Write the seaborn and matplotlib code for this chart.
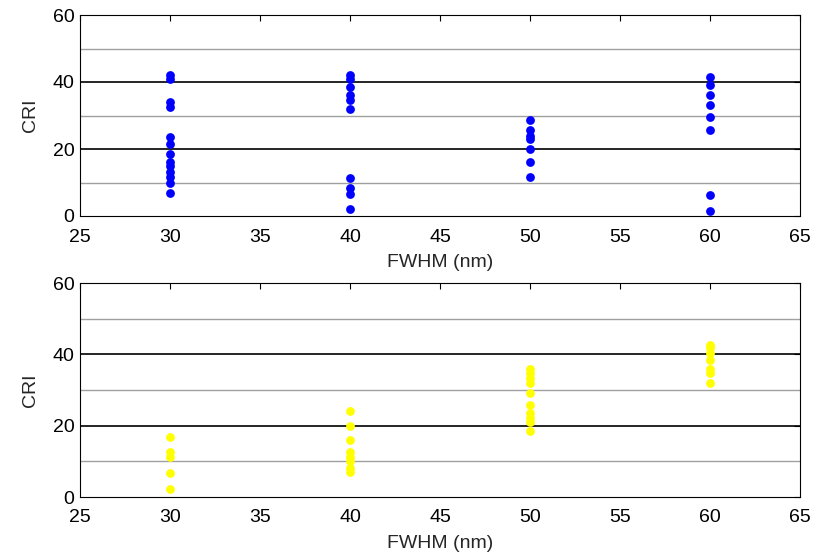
import matplotlib
matplotlib.use("Agg")
import matplotlib.pyplot as plt
import seaborn as sns
import pandas as pd
import numpy as np

sns.set_theme(style="white")
plt.rcParams['font.family'] = ['Liberation Sans', 'DejaVu Sans']

# Top panel (blue)
top_x30 = [42, 41, 34, 32.5, 23.5, 21.5, 18.5, 16, 15, 13, 11.5, 10, 7]
top_x40 = [42, 41, 38.5, 36, 34.5, 32, 11.3, 8.4, 6.5, 2.2]
top_x50 = [28.7, 25.7, 24, 23, 20, 16, 11.6]
top_x60 = [41.4, 39, 36, 33.1, 29.6, 25.7, 6.3, 1.5]

# Bottom panel (yellow)
bot_x30 = [16.7, 12.7, 11.3, 6.8, 2.2]
bot_x40 = [24, 20, 16, 12.7, 11.3, 10, 8, 7]
bot_x50 = [36, 34.7, 33.3, 31.9, 29.2, 25.8, 23.5, 22.1, 21.1, 18.5]
bot_x60 = [42.6, 41.7, 40.3, 38.4, 36, 34.7, 31.9]

fwhm_levels = [30, 40, 50, 60]
xticks = [25, 30, 35, 40, 45, 50, 55, 60, 65]
yticks = [0, 20, 40, 60]


def make_df(groups):
    xs, ys = [], []
    for lvl, vals in zip(fwhm_levels, groups):
        xs += [lvl] * len(vals)
        ys += vals
    return pd.DataFrame({"FWHM": xs, "CRI": ys})


df_top = make_df([top_x30, top_x40, top_x50, top_x60])
df_bot = make_df([bot_x30, bot_x40, bot_x50, bot_x60])

fig = plt.figure(figsize=(8.15, 5.59), dpi=100)
ax1 = fig.add_axes([80 / 815, 1 - 216 / 559, 720 / 815, 201 / 559])
ax2 = fig.add_axes([80 / 815, 1 - 497 / 559, 720 / 815, 214 / 559])

for ax, df, color in [(ax1, df_top, "#0000ff"), (ax2, df_bot, "#ffff00")]:
    for y in [10, 30, 50]:
        ax.axhline(y, color="#a0a0a0", lw=1.0, zorder=0)
    for y in [20, 40]:
        ax.axhline(y, color="black", lw=1.2, zorder=0)
    sns.scatterplot(data=df, x="FWHM", y="CRI", ax=ax, color=color,
                    s=40, edgecolor=color, linewidth=0, legend=False, zorder=3)
    ax.set_xlim(25, 65)
    ax.set_ylim(0, 60)
    ax.set_xticks(xticks)
    ax.set_yticks(yticks)
    ax.tick_params(direction="in", top=True, right=True, length=4,
                   width=0.8, labelsize=14, colors="black")
    ax.tick_params(axis="x", pad=9)
    ax.tick_params(axis="y", pad=4)
    ax.set_xlabel("FWHM (nm)", fontsize=14, labelpad=6)
    ax.set_ylabel("CRI", fontsize=14, labelpad=10)
    for sp in ax.spines.values():
        sp.set_color("black")
        sp.set_linewidth(0.8)
    ax.set_facecolor("white")

fig.savefig("out.png", dpi=100, facecolor="white")
